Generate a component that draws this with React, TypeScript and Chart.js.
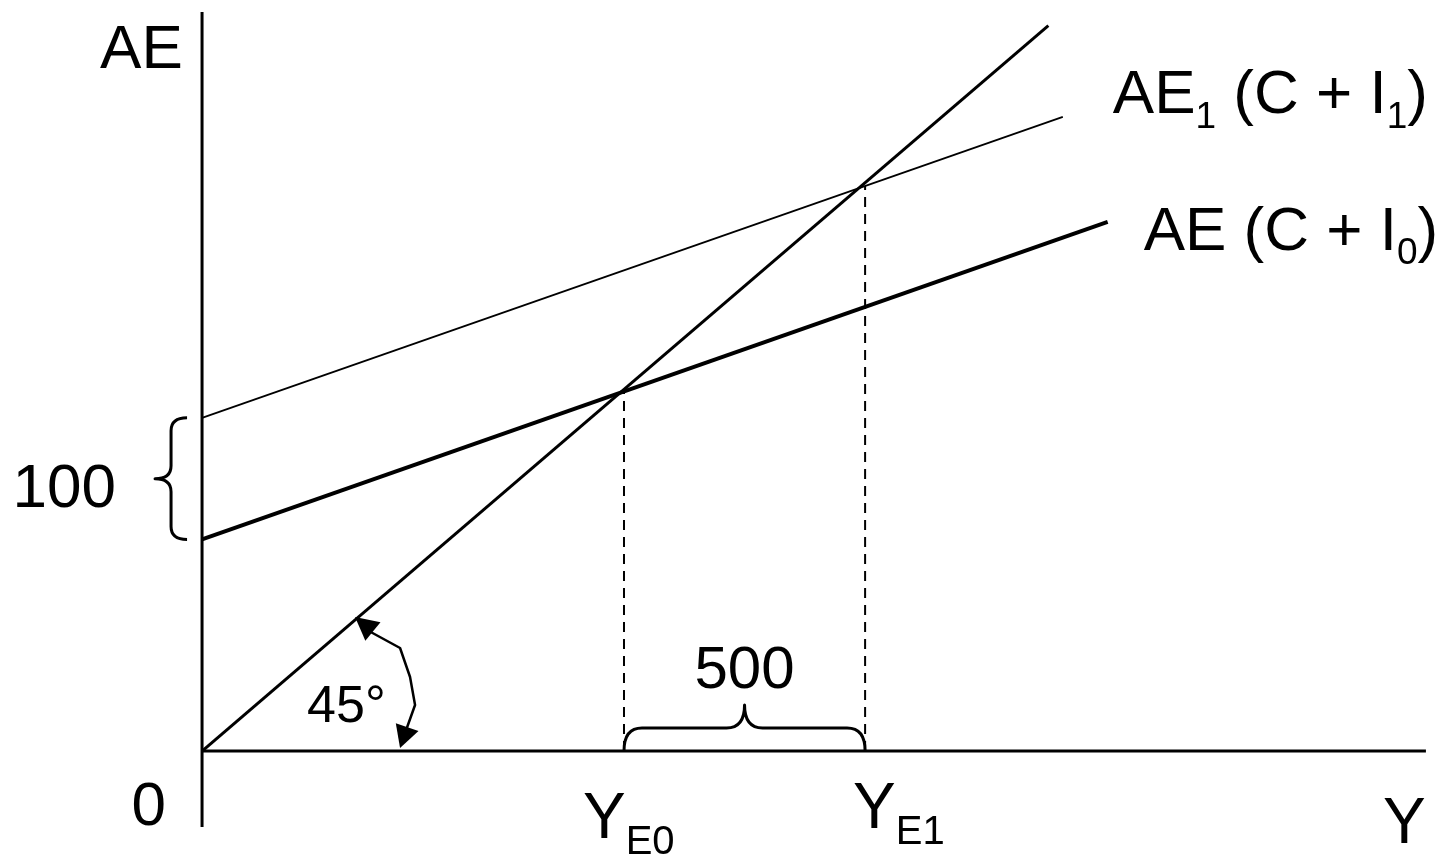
import React, { useEffect, useRef } from "react";
import { Chart, registerables } from "chart.js";

Chart.register(...registerables);

// ---- Data (model units; the 45° line is Y = AE) ----
const FORTY_FIVE_X = [0, 1755];
const FORTY_FIVE_Y = [0, 1755];
const AE0_X = [0, 1878];
const AE0_Y = [512, 1280];
const AE1_X = [0, 1785];
const AE1_Y = [806, 1534];
const EQ_INCOME = [875, 1375]; // Y_E0, Y_E1
const EQ_SPENDING = [870, 1367];
const X_AXIS_RANGE = [0, 2538];
const Y_AXIS_RANGE = [-184, 1788];

// ---- Text ----
const Y_AXIS_TITLE = "AE";
const X_AXIS_TITLE = "Y";
const ORIGIN_LABEL = "0";
const EQ_LABELS = [["Y", "E0"], ["Y", "E1"]];
const SHIFT_LABEL = "100";
const MULTIPLIER_LABEL = "500";
const ANGLE_LABEL = "45°";
const AE1_LABEL = [["AE", false], ["1", true], [" (C + I", false], ["1", true], [")", false]];
const AE0_LABEL = [["AE (C + I", false], ["0", true], [")", false]];

const FONT = '"Liberation Sans", Arial, Helvetica, sans-serif';

function pts(xs: number[], ys: number[]) {
  return xs.map((x, i) => ({ x, y: ys[i] }));
}

function drawRich(ctx: CanvasRenderingContext2D, x: number, y: number, runs: any[], main: number, sub: number, dy: number) {
  let cx = x;
  ctx.textAlign = "left";
  ctx.textBaseline = "alphabetic";
  for (const [t, isSub] of runs) {
    const size = isSub ? sub : main;
    ctx.font = `${size}px ${FONT}`;
    ctx.fillText(t, cx, isSub ? y + dy : y);
    cx += ctx.measureText(t).width;
  }
}

function arrowHead(ctx: CanvasRenderingContext2D, tx: number, ty: number, dx: number, dy: number, len: number, half: number) {
  const l = Math.hypot(dx, dy);
  const ux = dx / l, uy = dy / l;
  const bx = tx - ux * len, by = ty - uy * len;
  ctx.beginPath();
  ctx.moveTo(tx, ty);
  ctx.lineTo(bx - uy * half, by + ux * half);
  ctx.lineTo(bx + uy * half, by - ux * half);
  ctx.closePath();
  ctx.fill();
}

const annotations = {
  id: "annotations",
  afterDatasetsDraw(chart: any) {
    const ctx: CanvasRenderingContext2D = chart.ctx;
    const xs = chart.scales.x, ys = chart.scales.y;
    const px = (v: number) => xs.getPixelForValue(v);
    const py = (v: number) => ys.getPixelForValue(v);
    const X0 = px(0), Y0 = py(0);
    ctx.save();
    ctx.fillStyle = "#000";
    ctx.strokeStyle = "#000";
    ctx.lineWidth = 3;
    ctx.lineCap = "butt";
    ctx.lineJoin = "round";

    // vertical brace for the shift of 100
    {
      const xr = X0 - 15, xt = X0 - 47, xm = (xr + xt) / 2;
      const yt = py(AE1_Y[0]), yb = py(AE0_Y[0]), ym = (yt + yb) / 2, r = 13;
      ctx.beginPath();
      ctx.moveTo(xr, yt);
      ctx.quadraticCurveTo(xm, yt, xm, yt + r);
      ctx.lineTo(xm, ym - r);
      ctx.quadraticCurveTo(xm, ym, xt, ym);
      ctx.quadraticCurveTo(xm, ym, xm, ym + r);
      ctx.lineTo(xm, yb - r);
      ctx.quadraticCurveTo(xm, yb, xr, yb);
      ctx.stroke();
    }
    // horizontal brace for 500
    {
      const x1 = px(EQ_INCOME[0]), x2 = px(EQ_INCOME[1]), xc = (x1 + x2) / 2;
      const yb = Y0, ym = Y0 - 23, yt = Y0 - 46, r = 18;
      ctx.beginPath();
      ctx.moveTo(x1, yb);
      ctx.quadraticCurveTo(x1, ym, x1 + r, ym);
      ctx.lineTo(xc - r, ym);
      ctx.quadraticCurveTo(xc, ym, xc, yt);
      ctx.quadraticCurveTo(xc, ym, xc + r, ym);
      ctx.lineTo(x2 - r, ym);
      ctx.quadraticCurveTo(x2, ym, x2, yb);
      ctx.stroke();
    }
    // 45° arc with arrows
    {
      ctx.lineWidth = 2.5;
      ctx.beginPath();
      ctx.moveTo(X0 + 165, Y0 - 121);
      ctx.lineTo(X0 + 198, Y0 - 103);
      ctx.lineTo(X0 + 208, Y0 - 74);
      ctx.lineTo(X0 + 213, Y0 - 46);
      ctx.lineTo(X0 + 203, Y0 - 18);
      ctx.stroke();
      arrowHead(ctx, X0 + 153, Y0 - 134, -18.5, -15, 23, 12);
      arrowHead(ctx, X0 + 198, Y0 - 3, -7, 20.5, 22, 12);
    }

    // text
    ctx.textBaseline = "alphabetic";
    ctx.font = `62px ${FONT}`;
    ctx.textAlign = "left";
    ctx.fillText(Y_AXIS_TITLE, X0 - 102, py(Y_AXIS_RANGE[1]) + 56);
    ctx.textAlign = "right";
    ctx.fillText(ORIGIN_LABEL, X0 - 36, Y0 + 74);
    ctx.fillText(SHIFT_LABEL, X0 - 86, py((AE0_Y[0] + AE1_Y[0]) / 2) + 28);
    ctx.font = `64px ${FONT}`;
    ctx.textAlign = "left";
    ctx.fillText(X_AXIS_TITLE, px(X_AXIS_RANGE[1]) - 43, Y0 + 92);
    ctx.font = `60px ${FONT}`;
    ctx.textAlign = "center";
    ctx.fillText(MULTIPLIER_LABEL, px((EQ_INCOME[0] + EQ_INCOME[1]) / 2), Y0 - 63);
    ctx.font = `52px ${FONT}`;
    ctx.textAlign = "left";
    ctx.fillText(ANGLE_LABEL, X0 + 105, Y0 - 29);

    const eqOffsets = [[-41, 87], [-12, 77]];
    EQ_LABELS.forEach(([m, s], i) => {
      drawRich(ctx, px(EQ_INCOME[i]) + eqOffsets[i][0], Y0 + eqOffsets[i][1], [[m, false], [s, true]], 64, 40, 16);
    });

    drawRich(ctx, px(AE1_X[1]) + 50, py(AE1_Y[1]) - 4, AE1_LABEL, 62, 37, 15);
    drawRich(ctx, px(AE0_X[1]) + 36, py(AE0_Y[1]) + 28, AE0_LABEL, 62, 37, 14);

    ctx.restore();
  },
};

export default function App() {
  const ref = useRef<HTMLCanvasElement>(null);
  useEffect(() => {
    document.body.style.margin = "0";
    document.body.style.overflow = "hidden";
    const line = (data: any, width: number, dash: number[] = []) => ({
      data,
      showLine: true,
      borderColor: "#000",
      backgroundColor: "#000",
      borderWidth: width,
      borderDash: dash,
      pointRadius: 0,
      pointHoverRadius: 0,
      tension: 0,
      fill: false,
    });
    const chart = new Chart(ref.current!, {
      type: "scatter",
      data: {
        datasets: [
          line(pts([0, 0], Y_AXIS_RANGE), 3),
          line(pts(X_AXIS_RANGE, [0, 0]), 3),
          line(pts([EQ_INCOME[0], EQ_INCOME[0]], [0, EQ_SPENDING[0]]), 2, [10, 7]),
          line(pts([EQ_INCOME[1], EQ_INCOME[1]], [0, EQ_SPENDING[1]]), 2, [10, 7]),
          line(pts(FORTY_FIVE_X, FORTY_FIVE_Y), 3),
          line(pts(AE1_X, AE1_Y), 1.8),
          line(pts(AE0_X, AE0_Y), 4),
        ] as any,
      },
      options: {
        animation: false,
        responsive: false,
        events: [],
        layout: { padding: 0 },
        plugins: { legend: { display: false }, tooltip: { enabled: false } },
        scales: {
          x: { type: "linear", min: -419, max: 2590, display: false },
          y: { type: "linear", min: -254, max: 1817, display: false },
        },
      } as any,
      plugins: [annotations],
    });
    return () => chart.destroy();
  }, []);
  return <canvas ref={ref} width={1451} height={856} style={{ display: "block" }} />;
}
